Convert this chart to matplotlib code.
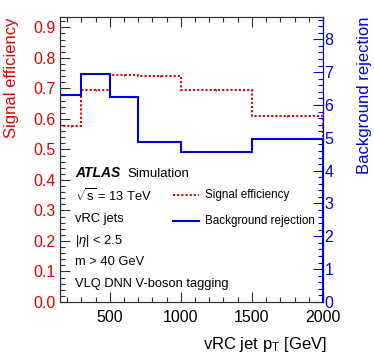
import numpy as np
import matplotlib.pyplot as plt
from matplotlib.ticker import MultipleLocator

plt.rcParams['font.family'] = ['Liberation Sans', 'DejaVu Sans']
plt.rcParams['mathtext.fontset'] = 'custom'
plt.rcParams['mathtext.rm'] = 'Liberation Sans'
plt.rcParams['mathtext.it'] = 'Liberation Sans:italic'

# pT bin edges [GeV]
edges = [150, 300, 500, 700, 1000, 1500, 2000]
sig_eff = [0.578, 0.695, 0.745, 0.741, 0.695, 0.610]
bkg_rej = [6.29, 6.93, 6.24, 4.86, 4.57, 4.96]

red = '#e00000'
blue = '#0000dd'

fig = plt.figure(figsize=(3.74, 3.59), dpi=100)
ax = fig.add_axes([60/374, 1-302/359, 263/374, 285/359])
ax2 = ax.twinx()

e = np.array(edges)
centers = 0.5*(e[1:]+e[:-1])

ax.stairs(sig_eff, edges, color=red, lw=1.5, ls=(0, (1, 1)))
ax.errorbar(centers, sig_eff, yerr=0.003, fmt='none', ecolor=red, lw=0.8)
ax2.stairs(bkg_rej, edges, color=blue, lw=1.5)

ax.set_xlim(150, 2000)
ax.set_ylim(0, 0.934)
ax2.set_ylim(0, 8.68)

ax.xaxis.set_major_locator(MultipleLocator(500))
ax.xaxis.set_minor_locator(MultipleLocator(100))
ax.yaxis.set_major_locator(MultipleLocator(0.1))
ax.yaxis.set_minor_locator(MultipleLocator(0.02))
ax2.yaxis.set_major_locator(MultipleLocator(1))
ax2.yaxis.set_minor_locator(MultipleLocator(0.2))

ax.tick_params(axis='both', which='both', direction='in', top=True, width=0.8, color='#333333')
ax.tick_params(which='major', length=7)
ax.tick_params(which='minor', length=3.5)
ax.tick_params(axis='x', labelsize=11.5, pad=6)
ax.tick_params(axis='y', labelsize=11.5, labelcolor=red, pad=3)
ax2.tick_params(axis='y', which='both', direction='in', colors=blue, labelsize=11.5, pad=1, width=0.8)
ax2.tick_params(which='major', length=7)
ax2.tick_params(which='minor', length=3.5)
ax2.spines['right'].set_color(blue)
for s in ['left', 'top', 'bottom']:
    ax.spines[s].set_color('#333333')
    ax2.spines[s].set_color('#333333')

ax.set_ylabel('Signal efficiency', color=red, fontsize=12, loc='top')
ax.yaxis.set_label_coords(-0.155, 1.0)
ax2.set_ylabel('Background rejection', color=blue, fontsize=12, loc='top')
ax2.yaxis.set_label_coords(1.13, 1.0)
ax.set_xlabel('vRC jet p$_\\mathregular{T}$ [GeV]', fontsize=12, loc='right')
ax.xaxis.set_label_coords(1.015, -0.115)

tx = 0.058
ax.text(tx, 0.437, 'ATLAS', transform=ax.transAxes, fontsize=10, fontweight='bold', style='italic')
ax.text(0.255, 0.437, 'Simulation', transform=ax.transAxes, fontsize=9.5)
lines = ['$\\sqrt{\\mathregular{s}}$ = 13 TeV', 'vRC jets', '|$\\eta$| < 2.5', 'm > 40 GeV', 'VLQ DNN V-boson tagging']
for i, s in enumerate(lines):
    ax.text(tx, 0.355 - i*0.0755, s, transform=ax.transAxes, fontsize=9.3)

ax.plot([0.43, 0.53], [0.375, 0.375], transform=ax.transAxes, color=red, lw=1.5, ls=(0, (1, 1)))
ax.text(0.553, 0.375, 'Signal efficiency', transform=ax.transAxes, fontsize=8.4, va='center')
ax.plot([0.43, 0.53], [0.284, 0.284], transform=ax.transAxes, color=blue, lw=1.5)
ax.text(0.553, 0.284, 'Background rejection', transform=ax.transAxes, fontsize=8.4, va='center')

fig.savefig('out.png', dpi=100)
